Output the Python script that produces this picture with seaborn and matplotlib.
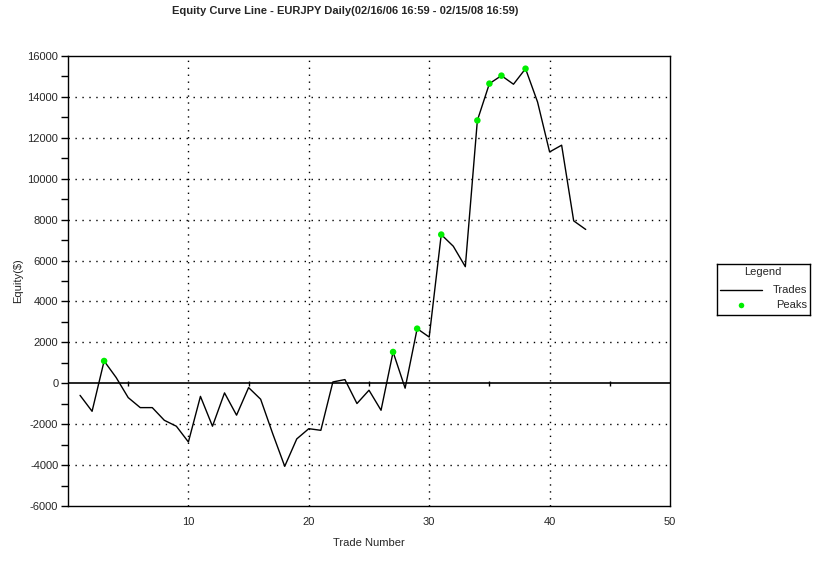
import numpy as np
import pandas as pd
import matplotlib
matplotlib.use('Agg')
import matplotlib.pyplot as plt
import seaborn as sns

# equity after each trade
trade_no = list(range(1, 44))
equity = [-590, -1370, 1090, 280, -700, -1190, -1190, -1810, -2100, -2870,
          -640, -2100, -470, -1560, -210, -780, -2460, -4060, -2720, -2220,
          -2300, 65, 180, -990, -340, -1320, 1530, -240, 2670, 2260,
          7270, 6700, 5700, 12850, 14650, 15040, 14620, 15380, 13750, 11310,
          11640, 7940, 7520]
peak_trades = [3, 27, 29, 31, 34, 35, 36, 38]

title = "Equity Curve Line - EURJPY Daily(02/16/06 16:59 - 02/15/08 16:59)"
peak_color = '#00ee00'

df = pd.DataFrame({'trade': trade_no, 'equity': equity})
peaks = df[df['trade'].isin(peak_trades)]

sns.set_style('white')
plt.rcParams['font.family'] = ['Liberation Sans', 'DejaVu Sans']
plt.rcParams['axes.unicode_minus'] = False

fig = plt.figure(figsize=(8.13, 5.62), dpi=100)
ax = fig.add_axes([68 / 813, 1 - 506 / 562, 602 / 813, 450 / 562])

# dotted grid
for yv in range(-4000, 16000, 2000):
    if yv != 0:
        ax.axhline(yv, color='black', lw=1, linestyle=(0, (1, 4)), zorder=1)
for xv in range(10, 50, 10):
    ax.axvline(xv, color='black', lw=1, linestyle=(0, (1, 4)), zorder=1)

# zero line with small marks
ax.axhline(0, color='black', lw=1.2, zorder=2)
ax.vlines(np.arange(5, 50, 10), -120, 120, color='black', lw=1, zorder=2)

sns.lineplot(data=df, x='trade', y='equity', color='black', lw=1,
             ax=ax, zorder=3)
sns.scatterplot(data=peaks, x='trade', y='equity', color=peak_color, s=22,
                edgecolor='none', ax=ax, zorder=4)

ax.set_xlim(0, 50)
ax.set_ylim(-6000, 16000)
ax.set_xticks([10, 20, 30, 40, 50])
ax.set_yticks(range(-6000, 16001, 2000))
ax.set_yticks(range(-6000, 16001, 1000), minor=True)
ax.tick_params(axis='x', length=0, labelsize=8, pad=8)
ax.tick_params(axis='y', which='both', length=5, width=1, direction='out',
               left=True, labelsize=8, pad=2, color='black')
for sp in ax.spines.values():
    sp.set_color('black')
    sp.set_linewidth(1)

ax.set_xlabel('Trade Number', fontsize=8, labelpad=8)
ax.set_ylabel('Equity($)', fontsize=8, labelpad=3)

fig.text(345 / 813, 1 - 11 / 562, title, ha='center', va='center',
         fontsize=8, fontweight='bold')

# legend box drawn as its own small axes
lax = fig.add_axes([717 / 813, 1 - 315 / 562, 93 / 813, 51 / 562])
lax.set_xlim(0, 93)
lax.set_ylim(51, 0)
lax.set_xticks([])
lax.set_yticks([])
for sp in lax.spines.values():
    sp.set_color('black')
    sp.set_linewidth(1)
lax.text(46, 8, 'Legend', ha='center', va='center', fontsize=8)
lax.plot([3, 45], [26, 26], color='black', lw=1)
lax.text(90, 26, 'Trades', ha='right', va='center', fontsize=8)
lax.plot([24], [41], 'o', color=peak_color, markersize=4, markeredgewidth=0)
lax.text(90, 41, 'Peaks', ha='right', va='center', fontsize=8)

fig.savefig('out.png', dpi=100, facecolor='white')
